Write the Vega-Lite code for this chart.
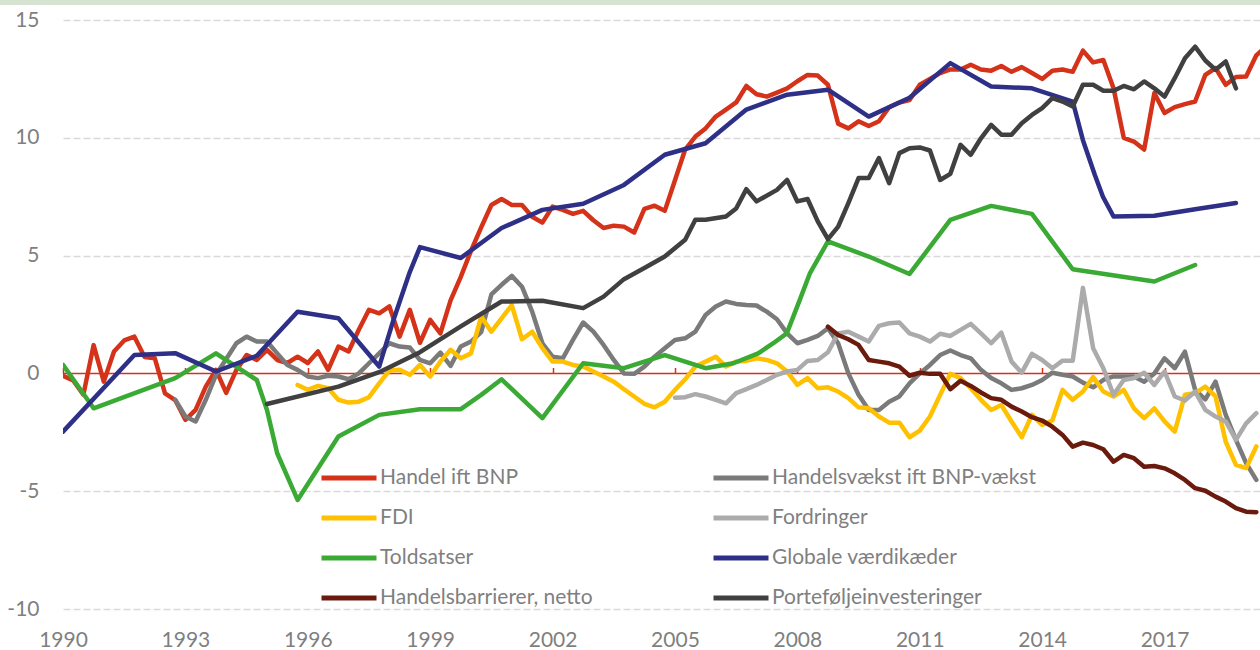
{
  "$schema": "https://vega.github.io/schema/vega-lite/v6.json",
  "width": 1197,
  "height": 589,
  "autosize": {"type": "none"},
  "padding": {"left": 63, "top": 20, "right": 0, "bottom": 41},
  "background": "white",
  "config": {"view": {"stroke": null}, "font": "Lato"},
  "layer": [
    {
      "data": {"values": [{"band": "top"}]},
      "mark": {"type": "rect", "color": "#d6e3d1", "clip": false},
      "encoding": {
        "x": {"datum": 1988.4, "type": "quantitative", "axis": null},
        "x2": {"datum": 2020.5},
        "y": {"datum": 15.9, "type": "quantitative"},
        "y2": {"datum": 15.64}
      }
    },
    {
      "data": {"values": [{"line": "zero"}]},
      "mark": {"type": "rule", "color": "#d5321a", "strokeWidth": 1.5},
      "encoding": {
        "x": {"datum": 1990, "type": "quantitative",
          "scale": {"domain": [1990, 2019.34], "nice": false, "zero": false},
          "axis": {"orient": "top", "offset": -353.5, "values": [1990, 1993, 1996, 1999, 2002, 2005, 2008, 2011, 2014, 2017],
            "labels": false, "domain": false, "grid": false, "ticks": true, "tickColor": "#d5321a", "tickSize": 6, "tickWidth": 1.5, "title": null}},
        "x2": {"datum": 2019.34},
        "y": {"datum": 0, "type": "quantitative"}
      }
    },
    {
      "data": {"values": [
        {"s":"Handel ift BNP","t":1990,"v":-0.1},{"s":"Handel ift BNP","t":1990.25,"v":-0.3},{"s":"Handel ift BNP","t":1990.5,"v":-0.9},{"s":"Handel ift BNP","t":1990.75,"v":1.2},
        {"s":"Handel ift BNP","t":1991,"v":-0.35},{"s":"Handel ift BNP","t":1991.25,"v":0.93},{"s":"Handel ift BNP","t":1991.5,"v":1.4},{"s":"Handel ift BNP","t":1991.75,"v":1.56},
        {"s":"Handel ift BNP","t":1992,"v":0.7},{"s":"Handel ift BNP","t":1992.25,"v":0.64},{"s":"Handel ift BNP","t":1992.5,"v":-0.85},{"s":"Handel ift BNP","t":1992.75,"v":-1.13},
        {"s":"Handel ift BNP","t":1993,"v":-1.97},{"s":"Handel ift BNP","t":1993.25,"v":-1.55},{"s":"Handel ift BNP","t":1993.5,"v":-0.56},{"s":"Handel ift BNP","t":1993.75,"v":0.15},
        {"s":"Handel ift BNP","t":1994,"v":-0.83},{"s":"Handel ift BNP","t":1994.25,"v":0.15},{"s":"Handel ift BNP","t":1994.5,"v":0.78},{"s":"Handel ift BNP","t":1994.75,"v":0.57},
        {"s":"Handel ift BNP","t":1995,"v":1.0},{"s":"Handel ift BNP","t":1995.25,"v":0.57},{"s":"Handel ift BNP","t":1995.5,"v":0.44},{"s":"Handel ift BNP","t":1995.75,"v":0.71},
        {"s":"Handel ift BNP","t":1996,"v":0.44},{"s":"Handel ift BNP","t":1996.25,"v":0.93},{"s":"Handel ift BNP","t":1996.5,"v":0.15},{"s":"Handel ift BNP","t":1996.75,"v":1.14},
        {"s":"Handel ift BNP","t":1997,"v":0.93},{"s":"Handel ift BNP","t":1997.25,"v":1.85},{"s":"Handel ift BNP","t":1997.5,"v":2.7},{"s":"Handel ift BNP","t":1997.75,"v":2.55},
        {"s":"Handel ift BNP","t":1998,"v":2.84},{"s":"Handel ift BNP","t":1998.25,"v":1.56},{"s":"Handel ift BNP","t":1998.5,"v":2.7},{"s":"Handel ift BNP","t":1998.75,"v":1.3},
        {"s":"Handel ift BNP","t":1999,"v":2.27},{"s":"Handel ift BNP","t":1999.25,"v":1.7},{"s":"Handel ift BNP","t":1999.5,"v":3.1},{"s":"Handel ift BNP","t":1999.75,"v":4.1},
        {"s":"Handel ift BNP","t":2000,"v":5.2},{"s":"Handel ift BNP","t":2000.25,"v":6.2},{"s":"Handel ift BNP","t":2000.5,"v":7.15},{"s":"Handel ift BNP","t":2000.75,"v":7.4},
        {"s":"Handel ift BNP","t":2001,"v":7.15},{"s":"Handel ift BNP","t":2001.25,"v":7.15},{"s":"Handel ift BNP","t":2001.5,"v":6.65},{"s":"Handel ift BNP","t":2001.75,"v":6.4},
        {"s":"Handel ift BNP","t":2002,"v":7.08},{"s":"Handel ift BNP","t":2002.25,"v":6.94},{"s":"Handel ift BNP","t":2002.5,"v":6.77},{"s":"Handel ift BNP","t":2002.75,"v":6.9},
        {"s":"Handel ift BNP","t":2003,"v":6.5},{"s":"Handel ift BNP","t":2003.25,"v":6.17},{"s":"Handel ift BNP","t":2003.5,"v":6.27},{"s":"Handel ift BNP","t":2003.75,"v":6.23},
        {"s":"Handel ift BNP","t":2004,"v":5.98},{"s":"Handel ift BNP","t":2004.25,"v":6.98},{"s":"Handel ift BNP","t":2004.5,"v":7.12},{"s":"Handel ift BNP","t":2004.75,"v":6.9},
        {"s":"Handel ift BNP","t":2005,"v":8.2},{"s":"Handel ift BNP","t":2005.25,"v":9.5},{"s":"Handel ift BNP","t":2005.5,"v":10.05},{"s":"Handel ift BNP","t":2005.75,"v":10.4},
        {"s":"Handel ift BNP","t":2006,"v":10.9},{"s":"Handel ift BNP","t":2006.25,"v":11.2},{"s":"Handel ift BNP","t":2006.5,"v":11.5},{"s":"Handel ift BNP","t":2006.75,"v":12.2},
        {"s":"Handel ift BNP","t":2007,"v":11.85},{"s":"Handel ift BNP","t":2007.25,"v":11.75},{"s":"Handel ift BNP","t":2007.5,"v":11.92},{"s":"Handel ift BNP","t":2007.75,"v":12.1},
        {"s":"Handel ift BNP","t":2008,"v":12.4},{"s":"Handel ift BNP","t":2008.25,"v":12.67},{"s":"Handel ift BNP","t":2008.5,"v":12.64},{"s":"Handel ift BNP","t":2008.75,"v":12.25},
        {"s":"Handel ift BNP","t":2009,"v":10.6},{"s":"Handel ift BNP","t":2009.25,"v":10.4},{"s":"Handel ift BNP","t":2009.5,"v":10.7},{"s":"Handel ift BNP","t":2009.75,"v":10.5},
        {"s":"Handel ift BNP","t":2010,"v":10.7},{"s":"Handel ift BNP","t":2010.25,"v":11.3},{"s":"Handel ift BNP","t":2010.5,"v":11.5},{"s":"Handel ift BNP","t":2010.75,"v":11.6},
        {"s":"Handel ift BNP","t":2011,"v":12.25},{"s":"Handel ift BNP","t":2011.25,"v":12.5},{"s":"Handel ift BNP","t":2011.5,"v":12.75},{"s":"Handel ift BNP","t":2011.75,"v":12.9},
        {"s":"Handel ift BNP","t":2012,"v":12.9},{"s":"Handel ift BNP","t":2012.25,"v":13.1},{"s":"Handel ift BNP","t":2012.5,"v":12.9},{"s":"Handel ift BNP","t":2012.75,"v":12.85},
        {"s":"Handel ift BNP","t":2013,"v":13.05},{"s":"Handel ift BNP","t":2013.25,"v":12.8},{"s":"Handel ift BNP","t":2013.5,"v":13.0},{"s":"Handel ift BNP","t":2013.75,"v":12.75},
        {"s":"Handel ift BNP","t":2014,"v":12.5},{"s":"Handel ift BNP","t":2014.25,"v":12.85},{"s":"Handel ift BNP","t":2014.5,"v":12.9},{"s":"Handel ift BNP","t":2014.75,"v":12.8},
        {"s":"Handel ift BNP","t":2015,"v":13.7},{"s":"Handel ift BNP","t":2015.25,"v":13.2},{"s":"Handel ift BNP","t":2015.5,"v":13.3},{"s":"Handel ift BNP","t":2015.75,"v":12.1},
        {"s":"Handel ift BNP","t":2016,"v":10.0},{"s":"Handel ift BNP","t":2016.25,"v":9.84},{"s":"Handel ift BNP","t":2016.5,"v":9.5},{"s":"Handel ift BNP","t":2016.75,"v":11.9},
        {"s":"Handel ift BNP","t":2017,"v":11.05},{"s":"Handel ift BNP","t":2017.25,"v":11.3},{"s":"Handel ift BNP","t":2017.5,"v":11.43},{"s":"Handel ift BNP","t":2017.75,"v":11.54},
        {"s":"Handel ift BNP","t":2018,"v":12.67},{"s":"Handel ift BNP","t":2018.25,"v":12.96},{"s":"Handel ift BNP","t":2018.5,"v":12.25},{"s":"Handel ift BNP","t":2018.75,"v":12.58},
        {"s":"Handel ift BNP","t":2019,"v":12.6},{"s":"Handel ift BNP","t":2019.25,"v":13.5},{"s":"Handel ift BNP","t":2019.5,"v":13.9},

        {"s":"Handelsvækst ift BNP-vækst","t":1992.75,"v":-1.12},
        {"s":"Handelsvækst ift BNP-vækst","t":1993,"v":-1.83},{"s":"Handelsvækst ift BNP-vækst","t":1993.25,"v":-2.04},{"s":"Handelsvækst ift BNP-vækst","t":1993.5,"v":-1.12},{"s":"Handelsvækst ift BNP-vækst","t":1993.75,"v":-0.06},
        {"s":"Handelsvækst ift BNP-vækst","t":1994.25,"v":1.28},{"s":"Handelsvækst ift BNP-vækst","t":1994.5,"v":1.56},{"s":"Handelsvækst ift BNP-vækst","t":1994.75,"v":1.35},
        {"s":"Handelsvækst ift BNP-vækst","t":1995,"v":1.35},{"s":"Handelsvækst ift BNP-vækst","t":1995.25,"v":0.85},{"s":"Handelsvækst ift BNP-vækst","t":1995.5,"v":0.36},{"s":"Handelsvækst ift BNP-vækst","t":1995.75,"v":0.15},
        {"s":"Handelsvækst ift BNP-vækst","t":1996,"v":-0.13},{"s":"Handelsvækst ift BNP-vækst","t":1996.25,"v":-0.2},{"s":"Handelsvækst ift BNP-vækst","t":1996.5,"v":-0.1},{"s":"Handelsvækst ift BNP-vækst","t":1996.75,"v":-0.13},
        {"s":"Handelsvækst ift BNP-vækst","t":1997,"v":-0.25},{"s":"Handelsvækst ift BNP-vækst","t":1997.25,"v":0.0},{"s":"Handelsvækst ift BNP-vækst","t":1997.5,"v":0.43},{"s":"Handelsvækst ift BNP-vækst","t":1997.75,"v":0.85},
        {"s":"Handelsvækst ift BNP-vækst","t":1998,"v":1.28},{"s":"Handelsvækst ift BNP-vækst","t":1998.25,"v":1.14},{"s":"Handelsvækst ift BNP-vækst","t":1998.5,"v":1.1},{"s":"Handelsvækst ift BNP-vækst","t":1998.75,"v":0.57},
        {"s":"Handelsvækst ift BNP-vækst","t":1999,"v":0.43},{"s":"Handelsvækst ift BNP-vækst","t":1999.25,"v":0.88},{"s":"Handelsvækst ift BNP-vækst","t":1999.5,"v":0.32},{"s":"Handelsvækst ift BNP-vækst","t":1999.75,"v":1.14},
        {"s":"Handelsvækst ift BNP-vækst","t":2000,"v":1.35},{"s":"Handelsvækst ift BNP-vækst","t":2000.25,"v":1.75},{"s":"Handelsvækst ift BNP-vækst","t":2000.5,"v":3.35},{"s":"Handelsvækst ift BNP-vækst","t":2000.75,"v":3.76},
        {"s":"Handelsvækst ift BNP-vækst","t":2001,"v":4.14},{"s":"Handelsvækst ift BNP-vækst","t":2001.25,"v":3.68},{"s":"Handelsvækst ift BNP-vækst","t":2001.5,"v":2.62},{"s":"Handelsvækst ift BNP-vækst","t":2001.75,"v":1.28},
        {"s":"Handelsvækst ift BNP-vækst","t":2002,"v":0.71},{"s":"Handelsvækst ift BNP-vækst","t":2002.25,"v":0.64},{"s":"Handelsvækst ift BNP-vækst","t":2002.5,"v":1.42},{"s":"Handelsvækst ift BNP-vækst","t":2002.75,"v":2.16},
        {"s":"Handelsvækst ift BNP-vækst","t":2003,"v":1.77},{"s":"Handelsvækst ift BNP-vækst","t":2003.25,"v":1.21},{"s":"Handelsvækst ift BNP-vækst","t":2003.5,"v":0.57},{"s":"Handelsvækst ift BNP-vækst","t":2003.75,"v":0.0},
        {"s":"Handelsvækst ift BNP-vækst","t":2004,"v":-0.02},{"s":"Handelsvækst ift BNP-vækst","t":2004.25,"v":0.29},{"s":"Handelsvækst ift BNP-vækst","t":2004.5,"v":0.71},{"s":"Handelsvækst ift BNP-vækst","t":2004.75,"v":1.07},
        {"s":"Handelsvækst ift BNP-vækst","t":2005,"v":1.42},{"s":"Handelsvækst ift BNP-vækst","t":2005.25,"v":1.49},{"s":"Handelsvækst ift BNP-vækst","t":2005.5,"v":1.77},{"s":"Handelsvækst ift BNP-vækst","t":2005.75,"v":2.48},
        {"s":"Handelsvækst ift BNP-vækst","t":2006,"v":2.84},{"s":"Handelsvækst ift BNP-vækst","t":2006.25,"v":3.05},{"s":"Handelsvækst ift BNP-vækst","t":2006.5,"v":2.95},{"s":"Handelsvækst ift BNP-vækst","t":2006.75,"v":2.9},
        {"s":"Handelsvækst ift BNP-vækst","t":2007,"v":2.88},{"s":"Handelsvækst ift BNP-vækst","t":2007.25,"v":2.62},{"s":"Handelsvækst ift BNP-vækst","t":2007.5,"v":2.3},{"s":"Handelsvækst ift BNP-vækst","t":2007.75,"v":1.7},
        {"s":"Handelsvækst ift BNP-vækst","t":2008,"v":1.28},{"s":"Handelsvækst ift BNP-vækst","t":2008.25,"v":1.42},{"s":"Handelsvækst ift BNP-vækst","t":2008.5,"v":1.59},{"s":"Handelsvækst ift BNP-vækst","t":2008.75,"v":1.92},
        {"s":"Handelsvækst ift BNP-vækst","t":2009,"v":1.28},{"s":"Handelsvækst ift BNP-vækst","t":2009.25,"v":0.0},{"s":"Handelsvækst ift BNP-vækst","t":2009.5,"v":-0.91},{"s":"Handelsvækst ift BNP-vækst","t":2009.75,"v":-1.55},
        {"s":"Handelsvækst ift BNP-vækst","t":2010,"v":-1.55},{"s":"Handelsvækst ift BNP-vækst","t":2010.25,"v":-1.2},{"s":"Handelsvækst ift BNP-vækst","t":2010.5,"v":-0.98},{"s":"Handelsvækst ift BNP-vækst","t":2010.75,"v":-0.42},
        {"s":"Handelsvækst ift BNP-vækst","t":2011,"v":0.0},{"s":"Handelsvækst ift BNP-vækst","t":2011.25,"v":0.36},{"s":"Handelsvækst ift BNP-vækst","t":2011.5,"v":0.78},{"s":"Handelsvækst ift BNP-vækst","t":2011.75,"v":0.97},
        {"s":"Handelsvækst ift BNP-vækst","t":2012,"v":0.78},{"s":"Handelsvækst ift BNP-vækst","t":2012.25,"v":0.64},{"s":"Handelsvækst ift BNP-vækst","t":2012.5,"v":0.15},{"s":"Handelsvækst ift BNP-vækst","t":2012.75,"v":-0.2},
        {"s":"Handelsvækst ift BNP-vækst","t":2013,"v":-0.42},{"s":"Handelsvækst ift BNP-vækst","t":2013.25,"v":-0.7},{"s":"Handelsvækst ift BNP-vækst","t":2013.5,"v":-0.63},{"s":"Handelsvækst ift BNP-vækst","t":2013.75,"v":-0.49},
        {"s":"Handelsvækst ift BNP-vækst","t":2014,"v":-0.28},{"s":"Handelsvækst ift BNP-vækst","t":2014.25,"v":0.03},{"s":"Handelsvækst ift BNP-vækst","t":2014.5,"v":-0.06},{"s":"Handelsvækst ift BNP-vækst","t":2014.75,"v":-0.13},
        {"s":"Handelsvækst ift BNP-vækst","t":2015,"v":-0.39},{"s":"Handelsvækst ift BNP-vækst","t":2015.25,"v":-0.59},{"s":"Handelsvækst ift BNP-vækst","t":2015.5,"v":-0.28},{"s":"Handelsvækst ift BNP-vækst","t":2015.75,"v":-0.13},
        {"s":"Handelsvækst ift BNP-vækst","t":2016,"v":-0.13},{"s":"Handelsvækst ift BNP-vækst","t":2016.25,"v":-0.13},{"s":"Handelsvækst ift BNP-vækst","t":2016.5,"v":-0.35},{"s":"Handelsvækst ift BNP-vækst","t":2016.75,"v":0.0},
        {"s":"Handelsvækst ift BNP-vækst","t":2017,"v":0.64},{"s":"Handelsvækst ift BNP-vækst","t":2017.25,"v":0.22},{"s":"Handelsvækst ift BNP-vækst","t":2017.5,"v":0.92},{"s":"Handelsvækst ift BNP-vækst","t":2017.75,"v":-0.7},
        {"s":"Handelsvækst ift BNP-vækst","t":2018,"v":-1.1},{"s":"Handelsvækst ift BNP-vækst","t":2018.25,"v":-0.35},{"s":"Handelsvækst ift BNP-vækst","t":2018.5,"v":-1.76},{"s":"Handelsvækst ift BNP-vækst","t":2018.75,"v":-2.82},
        {"s":"Handelsvækst ift BNP-vækst","t":2019,"v":-3.81},{"s":"Handelsvækst ift BNP-vækst","t":2019.25,"v":-4.52},

        {"s":"FDI","t":1995.75,"v":-0.49},
        {"s":"FDI","t":1996,"v":-0.7},{"s":"FDI","t":1996.25,"v":-0.53},{"s":"FDI","t":1996.5,"v":-0.63},{"s":"FDI","t":1996.75,"v":-1.12},
        {"s":"FDI","t":1997,"v":-1.24},{"s":"FDI","t":1997.25,"v":-1.2},{"s":"FDI","t":1997.5,"v":-1.01},{"s":"FDI","t":1997.75,"v":-0.42},
        {"s":"FDI","t":1998,"v":0.12},{"s":"FDI","t":1998.25,"v":0.15},{"s":"FDI","t":1998.5,"v":-0.06},{"s":"FDI","t":1998.75,"v":0.36},
        {"s":"FDI","t":1999,"v":-0.13},{"s":"FDI","t":1999.25,"v":0.5},{"s":"FDI","t":1999.5,"v":1.0},{"s":"FDI","t":1999.75,"v":0.64},
        {"s":"FDI","t":2000,"v":0.85},{"s":"FDI","t":2000.25,"v":2.41},{"s":"FDI","t":2000.5,"v":1.77},{"s":"FDI","t":2000.75,"v":2.34},
        {"s":"FDI","t":2001,"v":2.9},{"s":"FDI","t":2001.25,"v":1.45},{"s":"FDI","t":2001.5,"v":1.77},{"s":"FDI","t":2001.75,"v":1.07},
        {"s":"FDI","t":2002,"v":0.5},{"s":"FDI","t":2002.25,"v":0.5},{"s":"FDI","t":2002.5,"v":0.36},{"s":"FDI","t":2002.75,"v":0.29},
        {"s":"FDI","t":2003,"v":0.08},{"s":"FDI","t":2003.25,"v":-0.13},{"s":"FDI","t":2003.5,"v":-0.35},{"s":"FDI","t":2003.75,"v":-0.67},
        {"s":"FDI","t":2004,"v":-0.98},{"s":"FDI","t":2004.25,"v":-1.29},{"s":"FDI","t":2004.5,"v":-1.44},{"s":"FDI","t":2004.75,"v":-1.2},
        {"s":"FDI","t":2005,"v":-0.7},{"s":"FDI","t":2005.25,"v":-0.25},{"s":"FDI","t":2005.5,"v":0.29},{"s":"FDI","t":2005.75,"v":0.5},
        {"s":"FDI","t":2006,"v":0.71},{"s":"FDI","t":2006.25,"v":0.29},{"s":"FDI","t":2006.5,"v":0.5},{"s":"FDI","t":2006.75,"v":0.53},
        {"s":"FDI","t":2007,"v":0.64},{"s":"FDI","t":2007.25,"v":0.57},{"s":"FDI","t":2007.5,"v":0.43},{"s":"FDI","t":2007.75,"v":0.08},
        {"s":"FDI","t":2008,"v":-0.49},{"s":"FDI","t":2008.25,"v":-0.2},{"s":"FDI","t":2008.5,"v":-0.63},{"s":"FDI","t":2008.75,"v":-0.59},
        {"s":"FDI","t":2009,"v":-0.77},{"s":"FDI","t":2009.25,"v":-1.05},{"s":"FDI","t":2009.5,"v":-1.44},{"s":"FDI","t":2009.75,"v":-1.48},
        {"s":"FDI","t":2010,"v":-1.83},{"s":"FDI","t":2010.25,"v":-2.09},{"s":"FDI","t":2010.5,"v":-2.09},{"s":"FDI","t":2010.75,"v":-2.71},
        {"s":"FDI","t":2011,"v":-2.43},{"s":"FDI","t":2011.25,"v":-1.83},{"s":"FDI","t":2011.5,"v":-0.91},{"s":"FDI","t":2011.75,"v":-0.02},
        {"s":"FDI","t":2012,"v":-0.2},{"s":"FDI","t":2012.25,"v":-0.63},{"s":"FDI","t":2012.5,"v":-1.12},{"s":"FDI","t":2012.75,"v":-1.55},
        {"s":"FDI","t":2013,"v":-1.34},{"s":"FDI","t":2013.25,"v":-2.04},{"s":"FDI","t":2013.5,"v":-2.71},{"s":"FDI","t":2013.75,"v":-1.76},
        {"s":"FDI","t":2014,"v":-2.19},{"s":"FDI","t":2014.25,"v":-2.0},{"s":"FDI","t":2014.5,"v":-0.7},{"s":"FDI","t":2014.75,"v":-1.12},
        {"s":"FDI","t":2015,"v":-0.77},{"s":"FDI","t":2015.25,"v":-0.16},{"s":"FDI","t":2015.5,"v":-0.77},{"s":"FDI","t":2015.75,"v":-0.98},
        {"s":"FDI","t":2016,"v":-0.7},{"s":"FDI","t":2016.25,"v":-1.48},{"s":"FDI","t":2016.5,"v":-1.9},{"s":"FDI","t":2016.75,"v":-1.48},
        {"s":"FDI","t":2017,"v":-2.04},{"s":"FDI","t":2017.25,"v":-2.47},{"s":"FDI","t":2017.5,"v":-0.91},{"s":"FDI","t":2017.75,"v":-0.84},
        {"s":"FDI","t":2018,"v":-0.56},{"s":"FDI","t":2018.25,"v":-0.98},{"s":"FDI","t":2018.5,"v":-2.9},{"s":"FDI","t":2018.75,"v":-3.88},
        {"s":"FDI","t":2019,"v":-4.02},{"s":"FDI","t":2019.25,"v":-3.1},

        {"s":"Fordringer","t":2005,"v":-1.03},{"s":"Fordringer","t":2005.25,"v":-1.01},{"s":"Fordringer","t":2005.5,"v":-0.88},{"s":"Fordringer","t":2005.75,"v":-0.98},
        {"s":"Fordringer","t":2006,"v":-1.12},{"s":"Fordringer","t":2006.25,"v":-1.27},{"s":"Fordringer","t":2006.5,"v":-0.84},{"s":"Fordringer","t":2006.75,"v":-0.67},
        {"s":"Fordringer","t":2007,"v":-0.49},{"s":"Fordringer","t":2007.25,"v":-0.28},{"s":"Fordringer","t":2007.5,"v":-0.06},{"s":"Fordringer","t":2007.75,"v":0.08},
        {"s":"Fordringer","t":2008,"v":0.15},{"s":"Fordringer","t":2008.25,"v":0.53},{"s":"Fordringer","t":2008.5,"v":0.57},{"s":"Fordringer","t":2008.75,"v":0.9},
        {"s":"Fordringer","t":2009,"v":1.7},{"s":"Fordringer","t":2009.25,"v":1.77},{"s":"Fordringer","t":2009.5,"v":1.56},{"s":"Fordringer","t":2009.75,"v":1.35},
        {"s":"Fordringer","t":2010,"v":2.02},{"s":"Fordringer","t":2010.25,"v":2.13},{"s":"Fordringer","t":2010.5,"v":2.16},{"s":"Fordringer","t":2010.75,"v":1.7},
        {"s":"Fordringer","t":2011,"v":1.56},{"s":"Fordringer","t":2011.25,"v":1.35},{"s":"Fordringer","t":2011.5,"v":1.68},{"s":"Fordringer","t":2011.75,"v":1.59},
        {"s":"Fordringer","t":2012,"v":1.85},{"s":"Fordringer","t":2012.25,"v":2.1},{"s":"Fordringer","t":2012.5,"v":1.7},{"s":"Fordringer","t":2012.75,"v":1.28},
        {"s":"Fordringer","t":2013,"v":1.73},{"s":"Fordringer","t":2013.25,"v":0.5},{"s":"Fordringer","t":2013.5,"v":0.03},{"s":"Fordringer","t":2013.75,"v":0.83},
        {"s":"Fordringer","t":2014,"v":0.57},{"s":"Fordringer","t":2014.25,"v":0.22},{"s":"Fordringer","t":2014.5,"v":0.54},{"s":"Fordringer","t":2014.75,"v":0.54},
        {"s":"Fordringer","t":2015,"v":3.63},{"s":"Fordringer","t":2015.25,"v":1.07},{"s":"Fordringer","t":2015.5,"v":0.22},{"s":"Fordringer","t":2015.75,"v":-0.91},
        {"s":"Fordringer","t":2016,"v":-0.28},{"s":"Fordringer","t":2016.25,"v":-0.2},{"s":"Fordringer","t":2016.5,"v":0.03},{"s":"Fordringer","t":2016.75,"v":-0.49},
        {"s":"Fordringer","t":2017,"v":0.08},{"s":"Fordringer","t":2017.25,"v":-0.98},{"s":"Fordringer","t":2017.5,"v":-1.15},{"s":"Fordringer","t":2017.75,"v":-0.77},
        {"s":"Fordringer","t":2018,"v":-1.55},{"s":"Fordringer","t":2018.25,"v":-1.83},{"s":"Fordringer","t":2018.5,"v":-2.04},{"s":"Fordringer","t":2018.75,"v":-2.82},
        {"s":"Fordringer","t":2019,"v":-2.12},{"s":"Fordringer","t":2019.25,"v":-1.69},

        {"s":"Toldsatser","t":1990,"v":0.36},{"s":"Toldsatser","t":1990.75,"v":-1.48},{"s":"Toldsatser","t":1992.75,"v":-0.2},{"s":"Toldsatser","t":1993.75,"v":0.85},
        {"s":"Toldsatser","t":1994.75,"v":-0.28},{"s":"Toldsatser","t":1995,"v":-1.55},{"s":"Toldsatser","t":1995.25,"v":-3.39},{"s":"Toldsatser","t":1995.75,"v":-5.37},
        {"s":"Toldsatser","t":1996.75,"v":-2.68},{"s":"Toldsatser","t":1997.75,"v":-1.76},{"s":"Toldsatser","t":1998.75,"v":-1.52},{"s":"Toldsatser","t":1999.75,"v":-1.52},
        {"s":"Toldsatser","t":2000.25,"v":-0.91},{"s":"Toldsatser","t":2000.75,"v":-0.25},{"s":"Toldsatser","t":2001.75,"v":-1.9},{"s":"Toldsatser","t":2002.75,"v":0.43},
        {"s":"Toldsatser","t":2003.75,"v":0.22},{"s":"Toldsatser","t":2004.75,"v":0.78},{"s":"Toldsatser","t":2005.75,"v":0.22},{"s":"Toldsatser","t":2006.43,"v":0.43},
        {"s":"Toldsatser","t":2007.04,"v":0.85},{"s":"Toldsatser","t":2007.41,"v":1.28},{"s":"Toldsatser","t":2007.74,"v":1.7},{"s":"Toldsatser","t":2008.06,"v":3.12},
        {"s":"Toldsatser","t":2008.31,"v":4.26},{"s":"Toldsatser","t":2008.75,"v":5.6},{"s":"Toldsatser","t":2009.75,"v":4.96},{"s":"Toldsatser","t":2010.75,"v":4.22},
        {"s":"Toldsatser","t":2011.75,"v":6.52},{"s":"Toldsatser","t":2012.75,"v":7.11},{"s":"Toldsatser","t":2013.75,"v":6.77},{"s":"Toldsatser","t":2014.75,"v":4.42},
        {"s":"Toldsatser","t":2016.75,"v":3.9},{"s":"Toldsatser","t":2017.75,"v":4.6},

        {"s":"Globale værdikæder","t":1990,"v":-2.47},{"s":"Globale værdikæder","t":1991.75,"v":0.78},{"s":"Globale værdikæder","t":1992.75,"v":0.86},{"s":"Globale værdikæder","t":1993.75,"v":0.08},
        {"s":"Globale værdikæder","t":1994.75,"v":0.75},{"s":"Globale værdikæder","t":1995.75,"v":2.62},{"s":"Globale værdikæder","t":1996.75,"v":2.34},{"s":"Globale værdikæder","t":1997.75,"v":0.29},
        {"s":"Globale værdikæder","t":1998.1,"v":2.27},{"s":"Globale værdikæder","t":1998.5,"v":4.3},{"s":"Globale værdikæder","t":1998.75,"v":5.36},{"s":"Globale værdikæder","t":1999.75,"v":4.9},
        {"s":"Globale værdikæder","t":2000.75,"v":6.17},{"s":"Globale værdikæder","t":2001.75,"v":6.94},{"s":"Globale værdikæder","t":2002.75,"v":7.2},{"s":"Globale værdikæder","t":2003.75,"v":8.0},
        {"s":"Globale værdikæder","t":2004.75,"v":9.28},{"s":"Globale værdikæder","t":2005.75,"v":9.77},{"s":"Globale værdikæder","t":2006.75,"v":11.2},{"s":"Globale værdikæder","t":2007.75,"v":11.83},
        {"s":"Globale værdikæder","t":2008.75,"v":12.04},{"s":"Globale værdikæder","t":2009.75,"v":10.9},{"s":"Globale værdikæder","t":2010.75,"v":11.7},{"s":"Globale værdikæder","t":2011.75,"v":13.17},
        {"s":"Globale værdikæder","t":2012.75,"v":12.18},{"s":"Globale værdikæder","t":2013.75,"v":12.1},{"s":"Globale værdikæder","t":2014.75,"v":11.54},{"s":"Globale værdikæder","t":2015.0,"v":9.9},
        {"s":"Globale værdikæder","t":2015.29,"v":8.43},{"s":"Globale værdikæder","t":2015.49,"v":7.5},{"s":"Globale værdikæder","t":2015.75,"v":6.66},{"s":"Globale værdikæder","t":2016.75,"v":6.69},
        {"s":"Globale værdikæder","t":2017.75,"v":6.97},{"s":"Globale værdikæder","t":2018.75,"v":7.23},

        {"s":"Handelsbarrierer, netto","t":2008.75,"v":1.98},
        {"s":"Handelsbarrierer, netto","t":2009,"v":1.63},{"s":"Handelsbarrierer, netto","t":2009.25,"v":1.45},{"s":"Handelsbarrierer, netto","t":2009.5,"v":1.21},{"s":"Handelsbarrierer, netto","t":2009.75,"v":0.57},
        {"s":"Handelsbarrierer, netto","t":2010,"v":0.5},{"s":"Handelsbarrierer, netto","t":2010.25,"v":0.43},{"s":"Handelsbarrierer, netto","t":2010.5,"v":0.29},{"s":"Handelsbarrierer, netto","t":2010.75,"v":-0.1},
        {"s":"Handelsbarrierer, netto","t":2011,"v":0.03},{"s":"Handelsbarrierer, netto","t":2011.25,"v":-0.02},{"s":"Handelsbarrierer, netto","t":2011.5,"v":-0.02},{"s":"Handelsbarrierer, netto","t":2011.75,"v":-0.67},
        {"s":"Handelsbarrierer, netto","t":2012,"v":-0.31},{"s":"Handelsbarrierer, netto","t":2012.25,"v":-0.53},{"s":"Handelsbarrierer, netto","t":2012.5,"v":-0.81},{"s":"Handelsbarrierer, netto","t":2012.75,"v":-1.05},
        {"s":"Handelsbarrierer, netto","t":2013,"v":-1.12},{"s":"Handelsbarrierer, netto","t":2013.25,"v":-1.41},{"s":"Handelsbarrierer, netto","t":2013.5,"v":-1.62},{"s":"Handelsbarrierer, netto","t":2013.75,"v":-1.86},
        {"s":"Handelsbarrierer, netto","t":2014,"v":-2.0},{"s":"Handelsbarrierer, netto","t":2014.25,"v":-2.26},{"s":"Handelsbarrierer, netto","t":2014.5,"v":-2.61},{"s":"Handelsbarrierer, netto","t":2014.75,"v":-3.11},
        {"s":"Handelsbarrierer, netto","t":2015,"v":-2.94},{"s":"Handelsbarrierer, netto","t":2015.25,"v":-3.04},{"s":"Handelsbarrierer, netto","t":2015.5,"v":-3.22},{"s":"Handelsbarrierer, netto","t":2015.75,"v":-3.75},
        {"s":"Handelsbarrierer, netto","t":2016,"v":-3.46},{"s":"Handelsbarrierer, netto","t":2016.25,"v":-3.6},{"s":"Handelsbarrierer, netto","t":2016.5,"v":-3.96},{"s":"Handelsbarrierer, netto","t":2016.75,"v":-3.93},
        {"s":"Handelsbarrierer, netto","t":2017,"v":-4.03},{"s":"Handelsbarrierer, netto","t":2017.25,"v":-4.24},{"s":"Handelsbarrierer, netto","t":2017.5,"v":-4.52},{"s":"Handelsbarrierer, netto","t":2017.75,"v":-4.87},
        {"s":"Handelsbarrierer, netto","t":2018,"v":-4.98},{"s":"Handelsbarrierer, netto","t":2018.25,"v":-5.23},{"s":"Handelsbarrierer, netto","t":2018.5,"v":-5.44},{"s":"Handelsbarrierer, netto","t":2018.75,"v":-5.72},
        {"s":"Handelsbarrierer, netto","t":2019,"v":-5.87},{"s":"Handelsbarrierer, netto","t":2019.25,"v":-5.89},

        {"s":"Porteføljeinvesteringer","t":1995,"v":-1.3},{"s":"Porteføljeinvesteringer","t":1996.75,"v":-0.56},{"s":"Porteføljeinvesteringer","t":1997.75,"v":0.05},{"s":"Porteføljeinvesteringer","t":1998.75,"v":0.9},
        {"s":"Porteføljeinvesteringer","t":1999.75,"v":2.0},{"s":"Porteføljeinvesteringer","t":2000.75,"v":3.05},{"s":"Porteføljeinvesteringer","t":2001.75,"v":3.08},{"s":"Porteføljeinvesteringer","t":2002.75,"v":2.77},
        {"s":"Porteføljeinvesteringer","t":2003.25,"v":3.26},{"s":"Porteføljeinvesteringer","t":2003.75,"v":4.0},{"s":"Porteføljeinvesteringer","t":2004.25,"v":4.47},{"s":"Porteføljeinvesteringer","t":2004.75,"v":4.96},
        {"s":"Porteføljeinvesteringer","t":2005.25,"v":5.67},{"s":"Porteføljeinvesteringer","t":2005.5,"v":6.52},{"s":"Porteføljeinvesteringer","t":2005.75,"v":6.52},{"s":"Porteføljeinvesteringer","t":2006.25,"v":6.66},
        {"s":"Porteføljeinvesteringer","t":2006.5,"v":7.0},{"s":"Porteføljeinvesteringer","t":2006.75,"v":7.82},{"s":"Porteføljeinvesteringer","t":2007,"v":7.3},{"s":"Porteføljeinvesteringer","t":2007.5,"v":7.79},
        {"s":"Porteføljeinvesteringer","t":2007.75,"v":8.21},{"s":"Porteføljeinvesteringer","t":2008,"v":7.3},{"s":"Porteføljeinvesteringer","t":2008.25,"v":7.4},{"s":"Porteføljeinvesteringer","t":2008.5,"v":6.45},
        {"s":"Porteføljeinvesteringer","t":2008.75,"v":5.7},{"s":"Porteføljeinvesteringer","t":2009,"v":6.23},{"s":"Porteføljeinvesteringer","t":2009.25,"v":7.23},{"s":"Porteføljeinvesteringer","t":2009.5,"v":8.29},
        {"s":"Porteføljeinvesteringer","t":2009.75,"v":8.29},{"s":"Porteføljeinvesteringer","t":2010,"v":9.14},{"s":"Porteføljeinvesteringer","t":2010.25,"v":8.07},{"s":"Porteføljeinvesteringer","t":2010.5,"v":9.35},
        {"s":"Porteføljeinvesteringer","t":2010.75,"v":9.56},{"s":"Porteføljeinvesteringer","t":2011,"v":9.59},{"s":"Porteføljeinvesteringer","t":2011.25,"v":9.46},{"s":"Porteføljeinvesteringer","t":2011.5,"v":8.21},
        {"s":"Porteføljeinvesteringer","t":2011.75,"v":8.47},{"s":"Porteføljeinvesteringer","t":2012,"v":9.7},{"s":"Porteføljeinvesteringer","t":2012.25,"v":9.28},{"s":"Porteføljeinvesteringer","t":2012.5,"v":9.98},
        {"s":"Porteføljeinvesteringer","t":2012.75,"v":10.55},{"s":"Porteføljeinvesteringer","t":2013,"v":10.13},{"s":"Porteføljeinvesteringer","t":2013.25,"v":10.13},{"s":"Porteføljeinvesteringer","t":2013.5,"v":10.62},
        {"s":"Porteføljeinvesteringer","t":2013.75,"v":10.97},{"s":"Porteføljeinvesteringer","t":2014,"v":11.26},{"s":"Porteføljeinvesteringer","t":2014.25,"v":11.68},{"s":"Porteføljeinvesteringer","t":2014.5,"v":11.54},
        {"s":"Porteføljeinvesteringer","t":2014.75,"v":11.33},{"s":"Porteføljeinvesteringer","t":2015,"v":12.25},{"s":"Porteføljeinvesteringer","t":2015.25,"v":12.25},{"s":"Porteføljeinvesteringer","t":2015.5,"v":12.0},
        {"s":"Porteføljeinvesteringer","t":2015.75,"v":12.0},{"s":"Porteføljeinvesteringer","t":2016,"v":12.2},{"s":"Porteføljeinvesteringer","t":2016.25,"v":12.06},{"s":"Porteføljeinvesteringer","t":2016.5,"v":12.39},
        {"s":"Porteføljeinvesteringer","t":2016.75,"v":12.1},{"s":"Porteføljeinvesteringer","t":2017,"v":11.75},{"s":"Porteføljeinvesteringer","t":2017.25,"v":12.53},{"s":"Porteføljeinvesteringer","t":2017.5,"v":13.38},
        {"s":"Porteføljeinvesteringer","t":2017.75,"v":13.87},{"s":"Porteføljeinvesteringer","t":2018,"v":13.28},{"s":"Porteføljeinvesteringer","t":2018.25,"v":12.89},{"s":"Porteføljeinvesteringer","t":2018.5,"v":13.24},
        {"s":"Porteføljeinvesteringer","t":2018.75,"v":12.1}
      ]},
      "mark": {"type": "line", "strokeWidth": 4.5, "interpolate": "linear", "strokeCap": "round", "strokeJoin": "round", "clip": true},
      "encoding": {
        "x": {"field": "t", "type": "quantitative",
          "scale": {"domain": [1990, 2019.34], "nice": false, "zero": false},
          "axis": {"orient": "bottom", "values": [1990, 1993, 1996, 1999, 2002, 2005, 2008, 2011, 2014, 2017], "format": "d",
            "grid": false, "domain": false, "ticks": false, "labelFont": "Lato", "labelFontSize": 21, "labelColor": "#7f7f7f",
            "labelPadding": 20, "labelFlush": false, "labelOverlap": false, "title": null}},
        "y": {"field": "v", "type": "quantitative",
          "scale": {"domain": [-10, 15], "nice": false, "zero": false},
          "axis": {"values": [-10, -5, 0, 5, 10, 15], "labelExpr": "'' + datum.value", "grid": true, "gridColor": "#d9d9d9", "gridWidth": 1.3, "gridDash": [7, 3],
            "gridOpacity": {"condition": {"test": "datum.value === 0", "value": 0}, "value": 1},
            "domain": false, "ticks": false, "labelFont": "Lato", "labelFontSize": 21, "labelColor": "#7f7f7f", "labelPadding": 24, "title": null}},
        "color": {"field": "s", "type": "nominal",
          "scale": {
            "domain": ["Handel ift BNP", "FDI", "Toldsatser", "Handelsbarrierer, netto", "Handelsvækst ift BNP-vækst", "Fordringer", "Globale værdikæder", "Porteføljeinvesteringer"],
            "range": ["#d5321a", "#ffc000", "#3aaa35", "#6b1a0e", "#7a7a7a", "#ababab", "#2e3087", "#404040"]},
          "legend": {"orient": "none", "legendX": 256, "legendY": 445, "columns": 2, "direction": "vertical",
            "symbolType": "stroke", "symbolSize": 3025, "symbolStrokeWidth": 5, "clipHeight": 26, "rowPadding": 14,
            "columnPadding": 118, "labelFont": "Lato", "labelFontSize": 21, "labelColor": "#7f7f7f", "labelOffset": 1,
            "labelLimit": 400, "title": null, "padding": 0}}
      }
    }
  ],
  "resolve": {"axis": {"x": "independent"}}
}
